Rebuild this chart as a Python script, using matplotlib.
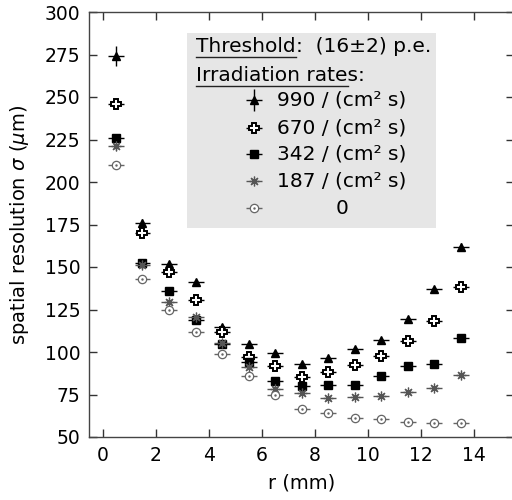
import matplotlib
matplotlib.use("Agg")
import matplotlib.pyplot as plt
from matplotlib.patches import Rectangle

# radial bins (mm)
r = [0.5, 1.5, 2.5, 3.5, 4.5, 5.5, 6.5, 7.5, 8.5, 9.5, 10.5, 11.5, 12.5, 13.5]
r_err = [0.3] * len(r)

# spatial resolution (um) per irradiation rate
sigma_990 = [274, 176, 151.5, 141, 115, 104.5, 99.5, 93, 96.5, 101.5, 107, 119.5, 137, 162]
sigma_670 = [246, 170, 147, 130.5, 111.5, 97, 92, 85.5, 88.5, 92.5, 97.5, 106.5, 118.5, 138.5]
sigma_342 = [226, 152.5, 136, 119, 104.5, 94, 83, 80, 80.5, 80.5, 86, 92, 93, 108]
sigma_187 = [221, 151, 129.5, 120.5, 105.5, 91, 78.5, 76, 73, 73.5, 74, 76.5, 79, 86.5]
sigma_0 = [210, 143, 124.5, 111.5, 99, 86, 75, 66.5, 64, 61, 60.5, 59, 58.5, 58.5]

err_990 = [6, 2.5, 2, 1.5, 1.5, 1, 1, 1, 1, 1, 1, 1, 1.5, 2]
err_other = [2, 1.5, 1.5, 1, 1, 1, 1, 1, 1, 1, 1, 1, 1, 1.5]

rate_labels = ['990 / (cm² s)', '670 / (cm² s)', '342 / (cm² s)', '187 / (cm² s)', '0']

series = [sigma_990, sigma_670, sigma_342, sigma_187, sigma_0]
yerrs = [err_990, err_other, err_other, err_other, err_other]

styles = [
    dict(marker='^', ms=6.2, mfc='black', mec='black', color='black'),
    dict(marker='P', ms=6.8, mfc='white', mec='black', mew=1.4, color='black'),
    dict(marker='s', ms=5.4, mfc='black', mec='black', color='black'),
    dict(marker=(8, 2, 0), ms=7, mfc='none', mec='#555555', mew=0.9, color='#555555'),
    dict(marker='o', ms=6, mfc='white', mec='#666666', mew=0.9, color='#666666'),
]

plt.rcParams['font.family'] = ['DejaVu Sans']
plt.rcParams['mathtext.fontset'] = 'dejavusans'

fig = plt.figure(figsize=(5.12, 5.0), dpi=100)
ax = fig.add_axes([89.4 / 512, 63 / 500, (514 - 89.4) / 512, 425 / 500])

for vals, ye, st in zip(series, yerrs, styles):
    ax.errorbar(r, vals, xerr=r_err, yerr=ye, ls='none', elinewidth=1,
                capsize=0, zorder=5, **st)
# centre dot of the open circles
ax.plot(r, sigma_0, ls='none', marker='.', ms=1.5, color='#666666', zorder=6)

ax.set_xlim(-0.5, 15.5)
ax.set_ylim(50, 300)
ax.set_xticks(range(0, 15, 2))
ax.set_yticks(range(50, 301, 25))
ax.tick_params(direction='in', top=True, right=True, length=6, width=1,
               labelsize=13.5, pad=6.5, color='#333333')
for sp in ax.spines.values():
    sp.set_linewidth(1)
    sp.set_color('#444444')

ax.set_xlabel('r (mm)', fontsize=14, labelpad=6)
ax.set_ylabel(r'spatial resolution $\sigma$ ($\mu$m)', fontsize=14, labelpad=10)

# legend box
ax.add_patch(Rectangle((3.18, 172.9), 9.38, 114.7, facecolor='#e6e6e6',
                       edgecolor='none', zorder=3))

fs_leg = 14.5
t1 = ax.text(3.52, 279.6, 'Threshold', fontsize=fs_leg, va='center', ha='left', zorder=4)
ax.annotate(':  (16±2) p.e.', xy=(1, 0), xycoords=t1, va='bottom', ha='left',
            fontsize=fs_leg, zorder=4)
t2 = ax.text(3.52, 262.9, 'Irradiation rates:', fontsize=fs_leg, va='center',
             ha='left', zorder=4)
t2u = ax.text(3.52, 262.9, 'Irradiation rate', fontsize=fs_leg, va='center',
              ha='left', zorder=4, alpha=0)

fig.canvas.draw()
renderer = fig.canvas.get_renderer()
inv = ax.transData.inverted()
for t in (t1, t2u):
    bb = t.get_window_extent(renderer)
    (x0, y0), (x1, _) = inv.transform([[bb.x0, bb.y0 - 1], [bb.x1, bb.y0 - 1]])
    ax.plot([x0, x1], [y0, y0], color='#222222', lw=1, zorder=4)

# legend key glyphs
key_x = 5.70
key_y = [248.2, 231.9, 216.5, 200.6, 184.7]
key_yerr = [6.5, 0, 0, 0, 0]
for ky, kye, st, lab in zip(key_y, key_yerr, styles, rate_labels):
    ax.errorbar([key_x], [ky], xerr=[0.3], yerr=[kye], ls='none', elinewidth=1,
                capsize=0, zorder=5, **st)
    ax.text(9.02, ky, lab, fontsize=fs_leg, va='center', ha='center', zorder=4)
ax.plot([key_x], [key_y[-1]], ls='none', marker='.', ms=1.5, color='#666666', zorder=6)

fig.savefig('out.png', dpi=100)
